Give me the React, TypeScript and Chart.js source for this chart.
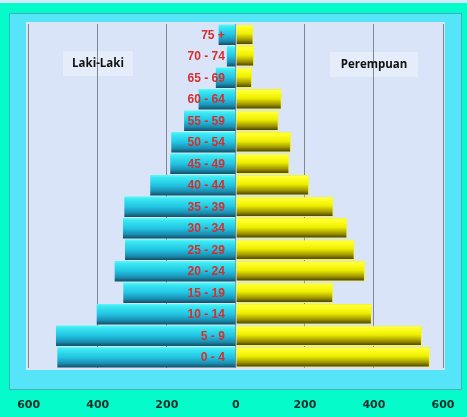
import React, { useEffect, useRef } from "react";
import { Chart, registerables } from "chart.js";

Chart.register(...registerables);

const ageGroups = [
  "75 +", "70 - 74", "65 - 69", "60 - 64", "55 - 59", "50 - 54", "45 - 49", "40 - 44",
  "35 - 39", "30 - 34", "25 - 29", "20 - 24", "15 - 19", "10 - 14", "5 - 9", "0 - 4",
];
const maleValues = [50, 26, 58, 108, 150, 187, 190, 248, 323, 327, 321, 351, 326, 403, 521, 517];
const femaleValues = [51, 53, 47, 133, 124, 160, 155, 212, 283, 323, 344, 374, 282, 394, 539, 562];
const xTicks = [-600, -400, -200, 0, 200, 400, 600];
const maleTitle = "Laki-Laki";
const femaleTitle = "Perempuan";

const BAR_PCT = 0.95;

function gradientFor(stops: [number, string][]) {
  return (ctx: any) => {
    const chart = ctx.chart;
    const y = chart.scales && chart.scales.y;
    if (!y || ctx.dataIndex === undefined || !chart.chartArea) return stops[1][1];
    const c = y.getPixelForValue(ctx.dataIndex);
    const half = ((y.height / ageGroups.length) * BAR_PCT) / 2;
    const g = chart.ctx.createLinearGradient(0, c - half, 0, c + half);
    stops.forEach(([o, col]) => g.addColorStop(o, col));
    return g;
  };
}

const decorPlugin = {
  id: "decor",
  beforeDraw(chart: any) {
    const { ctx, width, height } = chart;
    ctx.save();
    ctx.fillStyle = "#05fcca";
    ctx.fillRect(0, 0, width, height);
    ctx.fillStyle = "#d4eaf8";
    ctx.fillRect(0, 0, width, 3);
    // panel
    ctx.fillStyle = "#56e4f8";
    ctx.fillRect(9, 13, 453, 377);
    ctx.strokeStyle = "#3fb3b8";
    ctx.lineWidth = 1;
    ctx.strokeRect(9.5, 13.5, 452, 376);
    // plot area
    ctx.fillStyle = "#d9e4f8";
    ctx.fillRect(26, 22, 419, 348);
    // title boxes
    ctx.fillStyle = "rgba(248,249,254,0.4)";
    ctx.fillRect(63, 51, 70, 25);
    ctx.fillRect(330, 52, 88, 25);
    ctx.restore();
  },
  afterDatasetsDraw(chart: any) {
    const { ctx } = chart;
    const x = chart.scales.x;
    const y = chart.scales.y;
    const zero = x.getPixelForValue(0);
    ctx.save();
    ctx.font = "bold 12px 'Liberation Sans', Arial, sans-serif";
    ctx.fillStyle = "#d42f2f";
    ctx.textAlign = "right";
    ctx.textBaseline = "middle";
    ageGroups.forEach((lab, i) => {
      ctx.fillText(lab, zero - 11, y.getPixelForValue(i) + 0.5);
    });
    ctx.font = "bold 11.5px 'Open Sans', sans-serif";
    ctx.fillStyle = "#111111";
    ctx.textAlign = "center";
    ctx.fillText(maleTitle, 98, 64);
    ctx.fillText(femaleTitle, 374, 65);
    ctx.restore();
  },
};

export default function App() {
  const ref = useRef<HTMLCanvasElement | null>(null);
  useEffect(() => {
    document.body.style.margin = "0";
    if (!ref.current) return;
    const chart = new Chart(ref.current, {
      type: "bar",
      data: {
        labels: ageGroups,
        datasets: [
          {
            label: maleTitle,
            data: maleValues.map((v) => -v),
            backgroundColor: gradientFor([
              [0, "#5cf8f8"],
              [0.12, "#3ae8f2"],
              [0.5, "#22c4e2"],
              [0.8, "#1a8eb2"],
              [1, "#114e64"],
            ]) as any,
            borderWidth: 0,
            barPercentage: BAR_PCT,
            categoryPercentage: 1,
          },
          {
            label: femaleTitle,
            data: femaleValues,
            backgroundColor: gradientFor([
              [0, "#ffff50"],
              [0.15, "#ffff26"],
              [0.45, "#eeee00"],
              [0.75, "#a09800"],
              [1, "#3c3200"],
            ]) as any,
            borderColor: "#f6f630",
            borderWidth: 1,
            barPercentage: BAR_PCT,
            categoryPercentage: 1,
          },
        ],
      },
      options: {
        indexAxis: "y",
        responsive: false,
        animation: false,
        devicePixelRatio: 1,
        layout: { padding: { left: 28.7, right: 24, top: 24, bottom: 0 } },
        plugins: { legend: { display: false }, tooltip: { enabled: false } },
        scales: {
          x: {
            stacked: true,
            min: -600,
            max: 600,
            afterBuildTicks: (s: any) => {
              s.ticks = xTicks.map((v) => ({ value: v }));
            },
            afterFit: (s: any) => {
              s.height = 49;
              s.paddingLeft = 0;
              s.paddingRight = 0;
            },
            grid: { color: "#7f8790", lineWidth: 1, drawTicks: false },
            border: { display: false },
            ticks: {
              padding: 31,
              color: "#1b2b28",
              font: { family: "'DejaVu Sans', sans-serif", weight: "bold", size: 11 },
              callback: (v: any) => String(Math.abs(Number(v))),
            },
          },
          y: {
            stacked: true,
            display: false,
            offset: true,
          },
        },
      },
      plugins: [decorPlugin],
    });
    return () => chart.destroy();
  }, []);
  return (
    <div style={{ width: 467, height: 417 }}>
      <canvas ref={ref} width={467} height={417} />
    </div>
  );
}
